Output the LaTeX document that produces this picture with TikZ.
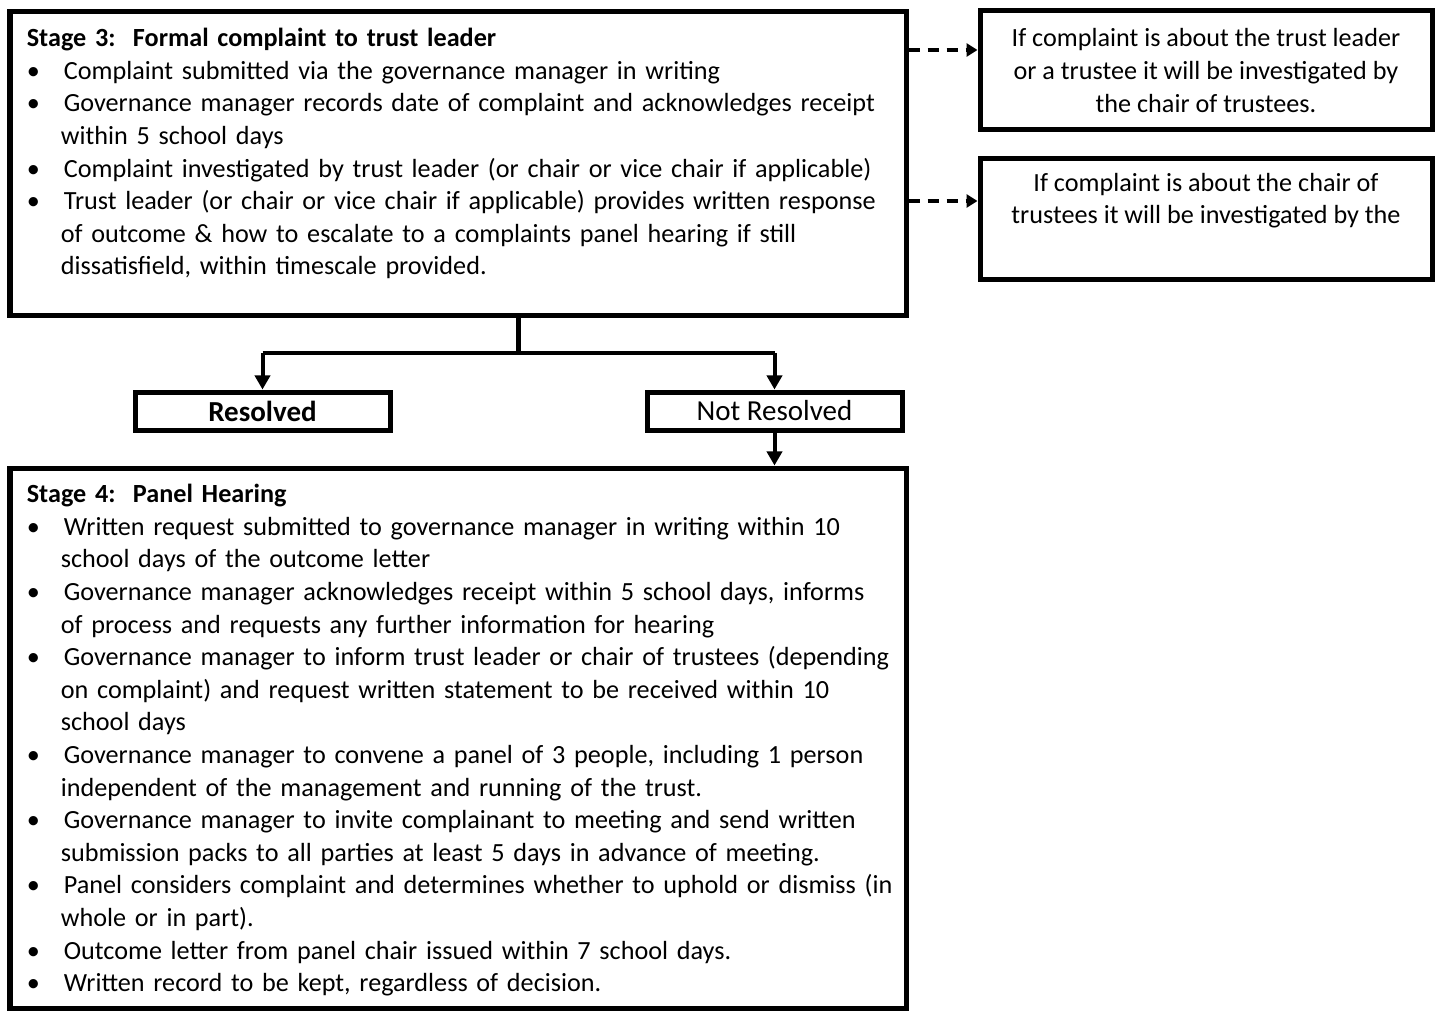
\documentclass[tikz,border=0pt]{standalone}
\usepackage{fontspec}
\setmainfont{Carlito}
\usetikzlibrary{arrows.meta,positioning,calc}

\newcommand{\bodyfont}{\fontsize{14.9pt}{18.55pt}\selectfont}
\newenvironment{points}{\begin{list}{\textbullet}{%
	\setlength\leftmargin{0.68cm}\setlength\labelwidth{0.2cm}\setlength\labelsep{0.48cm}%
	\setlength\itemsep{0pt}\setlength\parsep{0pt}\setlength\topsep{0pt}\setlength\partopsep{0pt}}}%
	{\end{list}}

\begin{document}
\begin{tikzpicture}[
	stagebox/.style={draw,line width=0.1cm,inner sep=0pt,minimum width=17.92cm},
	sidebox/.style={draw,line width=0.1cm,inner sep=0pt,minimum width=9.04cm,align=center,font=\bodyfont},
	outcome/.style={draw,line width=0.1cm,inner sep=0pt,minimum width=5.1cm,minimum height=0.76cm,font=\fontsize{16.5pt}{19pt}\selectfont},
	stagetext/.style={anchor=north west,inner sep=0pt,text width=17.4cm,align=left,font=\bodyfont},
	flow/.style={line width=0.08cm,-{Triangle[width=0.3cm,length=0.28cm]}},
	escalate/.style={line width=0.07cm,dash pattern=on 0.22cm off 0.16cm,-{Triangle[width=0.26cm,length=0.22cm]}}]
	\useasboundingbox (0,0) rectangle (28.74,-20.24);

	% Stage 3
	\node[stagebox,minimum height=6.08cm] (s3) at (9.16,-3.28) {};
	\node[stagetext] (s3text) at ($(s3.north west)+(0.38,-0.37)$) {%
		\textbf{Stage 3:\ \ Formal complaint to trust leader}
		\begin{points}
			\item Complaint submitted via the governance manager in writing
			\item Governance manager records date of complaint and acknowledges receipt\newline within 5 school days
			\item Complaint investigated by trust leader (or chair or vice chair if applicable)
			\item Trust leader (or chair or vice chair if applicable) provides written response\newline of outcome \& how to escalate to a complaints panel hearing if still\newline dissatisfield, within timescale provided.
		\end{points}};

	% Who investigates instead
	\node[sidebox,minimum height=2.38cm] (side1) at (24.12,-1.41)
		{If complaint is about the trust leader\\or a trustee it will be investigated by\\the chair of trustees.};
	\node[sidebox,minimum height=2.42cm] (side2) at (24.12,-4.39) {};
	\node[anchor=north,inner sep=0pt,align=center,font=\bodyfont] (side2text) at ($(side2.north)+(0,-0.32)$)
		{If complaint is about the chair of\\trustees it will be investigated by the};

	\coordinate (esc1) at ($(side1.west)+(0,0.41)$);
	\coordinate (esc2) at ($(side2.west)+(0,0.37)$);
	\draw[escalate] (esc1 -| s3.east) -- (esc1);
	\draw[escalate] (esc2 -| s3.east) -- (esc2);

	% Outcome of stage 3
	\node[outcome] (res) at (5.25,-8.22) {\bfseries Resolved};
	\node[outcome] (nres) at (15.49,-8.22) {Not Resolved};

	\coordinate (fork) at ($(res.north)!0.5!(nres.north)+(0,0.72)$);
	\draw[line width=0.09cm] (s3.south -| fork) -- (fork);
	\draw[line width=0.08cm] (fork -| res) -- (fork -| nres);
	\draw[flow] (fork -| res) -- (res);
	\draw[flow] (fork -| nres) -- (nres);

	% Stage 4
	\node[stagebox,minimum height=10.8cm] (s4) at (9.16,-14.76) {};
	\draw[flow] (nres) -- (nres |- s4.north);
	\node[stagetext] (s4text) at ($(s4.north west)+(0.38,-0.37)$) {%
		\textbf{Stage 4:\ \ Panel Hearing}
		\begin{points}
			\item Written request submitted to governance manager in writing within 10\newline school days of the outcome letter
			\item Governance manager acknowledges receipt within 5 school days, informs\newline of process and requests any further information for hearing
			\item Governance manager to inform trust leader or chair of trustees (depending\newline on complaint) and request written statement to be received within 10\newline school days
			\item Governance manager to convene a panel of 3 people, including 1 person\newline independent of the management and running of the trust.
			\item Governance manager to invite complainant to meeting and send written\newline submission packs to all parties at least 5 days in advance of meeting.
			\item Panel considers complaint and determines whether to uphold or dismiss (in\newline whole or in part).
			\item Outcome letter from panel chair issued within 7 school days.
			\item Written record to be kept, regardless of decision.
		\end{points}};
\end{tikzpicture}
\end{document}
